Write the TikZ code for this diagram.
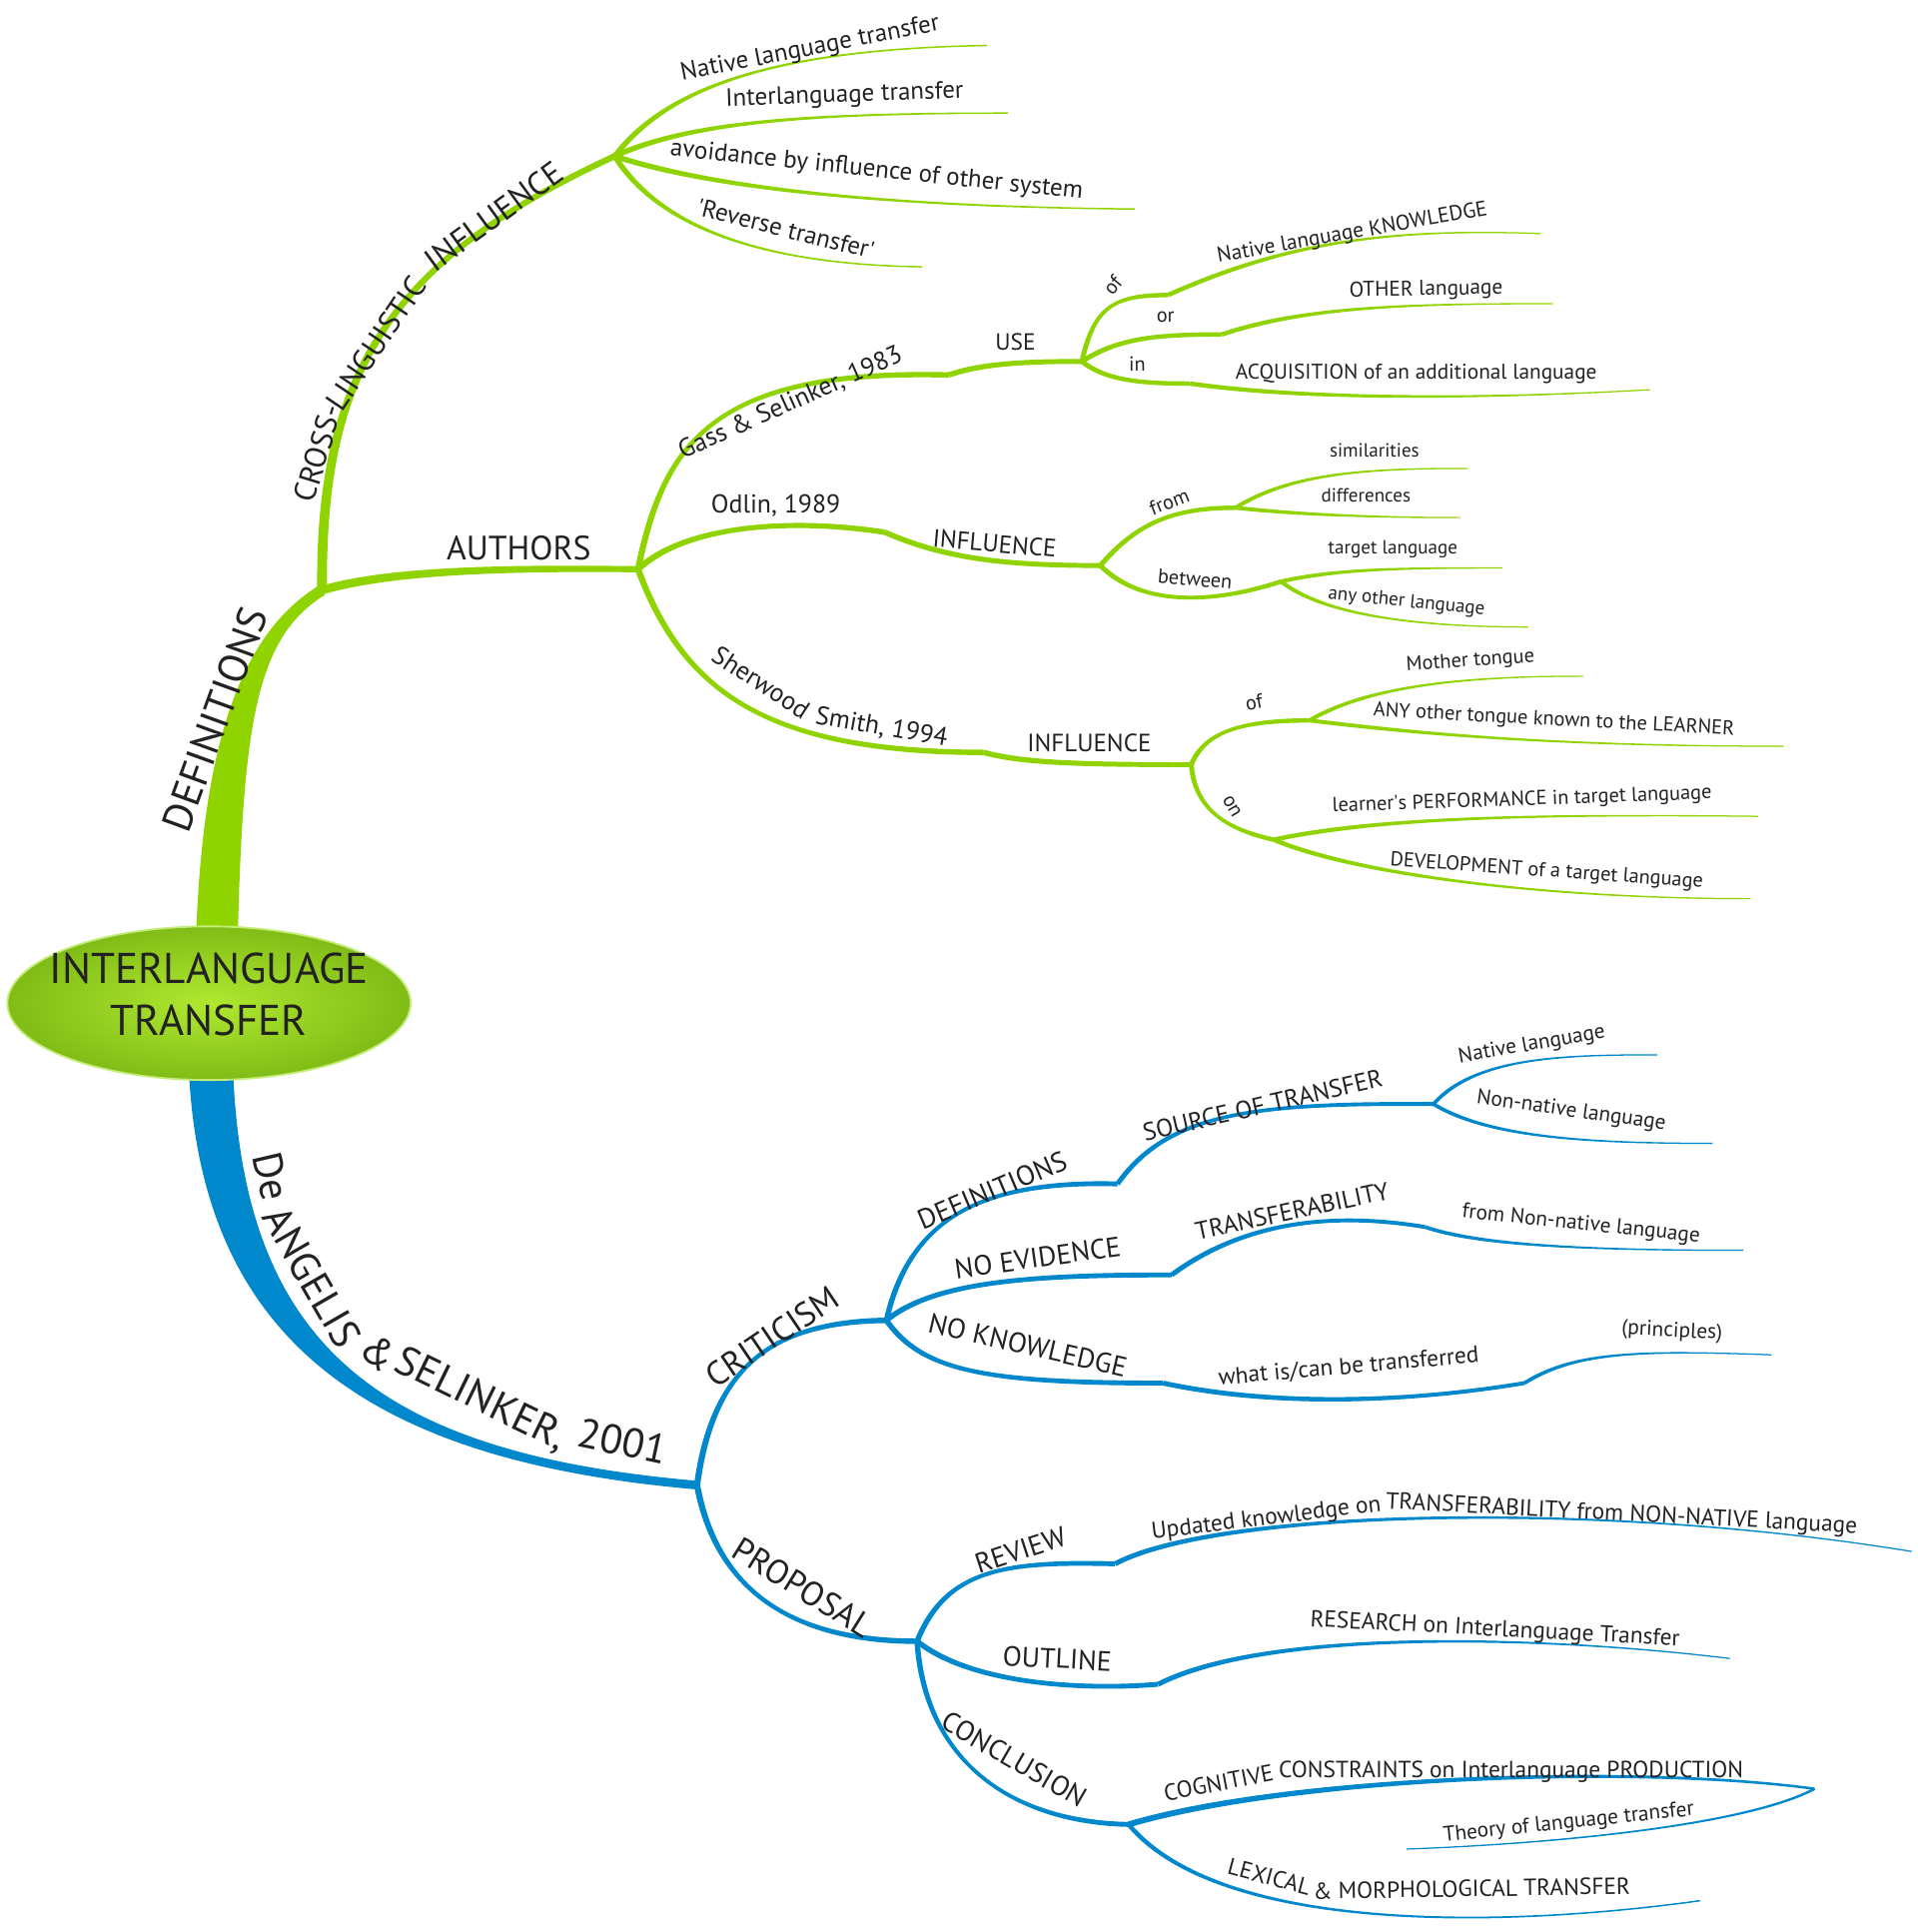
\documentclass[tikz,border=0pt]{standalone}
\usepackage{fontspec}
\setmainfont{PT Sans}
\usetikzlibrary{calc}
\usetikzlibrary{shapes.geometric}
\definecolor{grn}{RGB}{143,212,0}
\definecolor{blu}{RGB}{0,135,204}
\definecolor{ink}{RGB}{34,34,34}
\definecolor{pillHi}{RGB}{176,232,48}
\definecolor{pillLo}{RGB}{128,188,22}
\definecolor{pillRim}{RGB}{196,236,120}
% tapered branch: colour, start, control 1, control 2, end, half width at start, half width at end
\newcommand{\branch}[7]{\coordinate (t0) at (#2); \coordinate (t1) at (#3); \coordinate (t2) at (#4); \coordinate (t3) at (#5);
  \path ($(t0)!#6!90:(t1)$) coordinate (a0) ($(t0)!#6!-90:(t1)$) coordinate (b0) ($(t3)!#7!-90:(t2)$) coordinate (a3) ($(t3)!#7!90:(t2)$) coordinate (b3);
  \fill[#1] (a0) .. controls ($(t1)+(a0)-(t0)$) and ($(t2)+(a3)-(t3)$) .. (a3) -- (b3) .. controls ($(t2)+(b3)-(t3)$) and ($(t1)+(b0)-(t0)$) .. (b0) -- cycle;}
\tikzset{
  txt/.style={text=ink, inner sep=0pt},
  leafTxt/.style={txt, font=\fontsize{15.5}{18}\selectfont},
  leafMTxt/.style={txt, font=\fontsize{16.5}{19}\selectfont},
  leafLTxt/.style={txt, font=\fontsize{17.3}{20}\selectfont},
  twigSTxt/.style={txt, font=\fontsize{19}{22}\selectfont},
  twigTxt/.style={txt, font=\fontsize{20.3}{24}\selectfont},
  stemTxt/.style={txt, font=\fontsize{21}{25}\selectfont},
  stemLTxt/.style={txt, font=\fontsize{22.7}{27}\selectfont},
  boughTxt/.style={txt, font=\fontsize{27.5}{32}\selectfont},
  trunkTxt/.style={txt, font=\fontsize{33.5}{38}\selectfont},
  pill/.style={ellipse, minimum width=328pt, minimum height=125pt, inner sep=0pt, draw=pillRim, line width=1.5pt, inner color=pillHi, outer color=pillLo}
}
\begin{document}
\begin{tikzpicture}[x=1pt,y=-1pt]
        \useasboundingbox (0,0) rectangle (1560,1571.5);
        \fill[white] (0,0) rectangle (1560,1571.5);

        % hubs
        \coordinate (rootG) at (176,780);
        \coordinate (rootB) at (171,850);
        \coordinate (J1) at (262,480);
        \coordinate (H1) at (500,127);
        \coordinate (H2) at (519,463);
        \coordinate (G1) at (772,305);
        \coordinate (U) at (880,294);
        \coordinate (O1) at (950,240);
        \coordinate (O2) at (994,272);
        \coordinate (O3) at (968,312);
        \coordinate (D1) at (720,433);
        \coordinate (I1) at (895,460);
        \coordinate (F1) at (1005,413);
        \coordinate (B1) at (1042,473);
        \coordinate (S1) at (800,612);
        \coordinate (I2) at (969,622);
        \coordinate (OF2) at (1065,586);
        \coordinate (ON) at (1036,683);
        \coordinate (J2) at (567,1208);
        \coordinate (K) at (721,1074);
        \coordinate (P) at (746,1335);
        \coordinate (DF) at (909,963);
        \coordinate (SO) at (1166,898);
        \coordinate (NE) at (953,1037);
        \coordinate (TR) at (1159,998);
        \coordinate (NK) at (946,1125);
        \coordinate (WT) at (1240,1125);
        \coordinate (RV) at (907,1272);
        \coordinate (OL) at (942,1370);
        \coordinate (CO) at (918,1484);
        \coordinate (CC) at (1476,1455);
        % free ends
        \coordinate (nltE) at (803,37);
        \coordinate (iltE) at (820,92);
        \coordinate (avoE) at (923,170);
        \coordinate (revE) at (750,217);
        \coordinate (nkE) at (1253,190);
        \coordinate (othE) at (1263,247);
        \coordinate (acqE) at (1342,317);
        \coordinate (simE) at (1194,381);
        \coordinate (difE) at (1188,421);
        \coordinate (tlE) at (1222,462);
        \coordinate (aolE) at (1243,510);
        \coordinate (motE) at (1288,550);
        \coordinate (anyE) at (1451,607);
        \coordinate (perE) at (1430,664);
        \coordinate (devE) at (1424,731);
        \coordinate (natE) at (1348,858);
        \coordinate (nonE) at (1393,930);
        \coordinate (fnnE) at (1418,1017);
        \coordinate (priE) at (1441,1102);
        \coordinate (updE) at (1555,1262);
        \coordinate (resE) at (1407,1349);
        \coordinate (theE) at (1144,1504);
        \coordinate (lexE) at (1383,1546);

        % green side
        \branch{grn}{rootG}{180,590}{205,515}{J1}{17pt}{4.5pt}
        \branch{grn}{J1}{260,300}{320,210}{H1}{4pt}{2.5pt}
        \branch{grn}{H1}{540,75}{620,40}{nltE}{2.2pt}{0.6pt}
        \branch{grn}{H1}{560,100}{650,92}{iltE}{2.2pt}{0.6pt}
        \branch{grn}{H1}{570,150}{700,168}{avoE}{2.2pt}{0.6pt}
        \branch{grn}{H1}{530,175}{600,215}{revE}{2.2pt}{0.6pt}
        \branch{grn}{J1}{320,463}{420,462}{H2}{3.5pt}{2.5pt}
        % row1
        \branch{grn}{H2}{540,360}{580,300}{G1}{2.5pt}{2.2pt}
        \branch{grn}{G1}{800,295}{840,294}{U}{2.2pt}{2pt}
        \branch{grn}{U}{890,250}{905,240}{O1}{2pt}{1.8pt}
        \branch{grn}{U}{910,275}{940,272}{O2}{2pt}{1.8pt}
        \branch{grn}{U}{900,310}{930,312}{O3}{2pt}{1.8pt}
        \branch{grn}{O1}{1040,200}{1120,185}{nkE}{1.8pt}{0.5pt}
        \branch{grn}{O2}{1060,250}{1140,247}{othE}{1.8pt}{0.5pt}
        \branch{grn}{O3}{1060,325}{1200,325}{acqE}{1.8pt}{0.5pt}
        % row2
        \branch{grn}{H2}{560,425}{650,422}{D1}{2.5pt}{2.2pt}
        \branch{grn}{D1}{770,455}{820,460}{I1}{2.2pt}{2pt}
        \branch{grn}{I1}{925,425}{955,413}{F1}{2pt}{1.8pt}
        \branch{grn}{I1}{930,495}{990,490}{B1}{2pt}{1.8pt}
        \branch{grn}{F1}{1050,385}{1110,381}{simE}{1.6pt}{0.5pt}
        \branch{grn}{F1}{1050,418}{1110,421}{difE}{1.6pt}{0.5pt}
        \branch{grn}{B1}{1090,462}{1150,462}{tlE}{1.6pt}{0.5pt}
        \branch{grn}{B1}{1070,495}{1130,510}{aolE}{1.6pt}{0.5pt}
        % row3
        \branch{grn}{H2}{555,560}{620,612}{S1}{2.5pt}{2.2pt}
        \branch{grn}{S1}{830,620}{870,622}{I2}{2.2pt}{2pt}
        \branch{grn}{I2}{980,595}{1010,586}{OF2}{2pt}{1.8pt}
        \branch{grn}{I2}{972,660}{1000,675}{ON}{2pt}{1.8pt}
        \branch{grn}{OF2}{1110,560}{1180,550}{motE}{1.6pt}{0.5pt}
        \branch{grn}{OF2}{1140,595}{1250,607}{anyE}{1.6pt}{0.5pt}
        \branch{grn}{ON}{1120,665}{1250,662}{perE}{1.8pt}{0.5pt}
        \branch{grn}{ON}{1100,710}{1250,731}{devE}{1.8pt}{0.5pt}

        % blue side
        \branch{blu}{rootB}{174,1090}{300,1185}{J2}{18pt}{3.5pt}
        \branch{blu}{J2}{580,1110}{630,1075}{K}{2.5pt}{2.2pt}
        \branch{blu}{J2}{582,1290}{640,1335}{P}{2.5pt}{2.2pt}
        % criticism
        \branch{blu}{K}{740,990}{800,960}{DF}{2.2pt}{2pt}
        \branch{blu}{K}{760,1042}{840,1037}{NE}{2.2pt}{2pt}
        \branch{blu}{K}{750,1115}{800,1125}{NK}{2.2pt}{2pt}
        \branch{blu}{DF}{950,905}{1020,897}{SO}{2pt}{1.6pt}
        \branch{blu}{SO}{1200,860}{1270,858}{natE}{1.5pt}{0.5pt}
        \branch{blu}{SO}{1210,925}{1290,930}{nonE}{1.5pt}{0.5pt}
        \branch{blu}{NE}{1010,995}{1080,985}{TR}{2pt}{1.6pt}
        \branch{blu}{TR}{1200,1012}{1280,1017}{fnnE}{1.5pt}{0.5pt}
        \branch{blu}{NK}{1040,1145}{1150,1140}{WT}{2pt}{1.6pt}
        \branch{blu}{WT}{1280,1100}{1330,1098}{priE}{1.5pt}{0.5pt}
        % proposal
        \branch{blu}{P}{770,1275}{820,1270}{RV}{2.2pt}{2pt}
        \branch{blu}{P}{790,1370}{880,1375}{OL}{2.2pt}{2pt}
        \branch{blu}{P}{752,1430}{820,1482}{CO}{2.2pt}{2pt}
        \branch{blu}{RV}{990,1228}{1300,1220}{updE}{2pt}{0.5pt}
        \branch{blu}{OL}{1030,1325}{1250,1330}{resE}{2pt}{0.5pt}
        \branch{blu}{CO}{1050,1445}{1330,1435}{CC}{2.4pt}{1pt}
        \branch{blu}{CC}{1420,1485}{1260,1500}{theE}{1pt}{0.5pt}
        \branch{blu}{CO}{990,1570}{1210,1570}{lexE}{1.8pt}{0.6pt}

        % centre
        \node[pill] (root) at (170,816) {};
        \node[txt, align=center, font=\fontsize{35}{42}\selectfont] (rootTxt) at (170,809) {INTERLANGUAGE\\TRANSFER};

        % text green
        \node[trunkTxt, rotate=70] (defsL) at (175,585) {DEFINITIONS};
        \node[boughTxt, font=\fontsize{25}{30}\selectfont, rotate=73, anchor=base west] (cliA) at (255,410) {CROSS-};
        \node[boughTxt, font=\fontsize{25}{30}\selectfont, rotate=56, anchor=base west] (cliB) at (278,336) {LINGUISTIC};
        \node[boughTxt, font=\fontsize{26.5}{30}\selectfont, rotate=36, anchor=base west] (cliC) at (354,222) {INFLUENCE};
        \node[twigTxt, rotate=11] (nltL) at (659,40) {Native language transfer};
        \node[twigTxt, rotate=2] (iltL) at (687,78) {Interlanguage transfer};
        \node[twigTxt, rotate=-6] (avoL) at (713,139) {avoidance by influence of other system};
        \node[twigTxt, rotate=-14] (revL) at (639,186) {\textquotesingle Reverse transfer\textquotesingle};
        \node[boughTxt] (authL) at (422,446) {AUTHORS};
        \node[stemTxt, rotate=24] (gassL) at (643,328) {Gass \& Selinker, 1983};
        \node[stemTxt] (odlL) at (631,411) {Odlin, 1989};
        \node[stemTxt, rotate=-33] (sheA) at (619,555) {Sherwood};
        \node[stemTxt, rotate=-10] (sheB) at (717,592) {Smith, 1994};
        \node[twigSTxt] (useL) at (826,278) {USE};
        \node[leafMTxt, rotate=50] (ofaL) at (905,232) {of};
        \node[leafMTxt] (orL) at (948,258) {or};
        \node[leafMTxt] (inL) at (925,296) {in};
        \node[leafLTxt, rotate=10] (nkL) at (1100,190) {Native language KNOWLEDGE};
        \node[leafLTxt, rotate=1] (othL) at (1160,236) {OTHER language};
        \node[leafLTxt] (acqL) at (1152,304) {ACQUISITION of an additional language};
        \node[twigTxt, rotate=-5] (inf1L) at (809,442) {INFLUENCE};
        \node[leafMTxt, rotate=21] (fromL) at (951,408) {from};
        \node[leafMTxt, rotate=-5] (betL) at (972,471) {between};
        \node[leafTxt] (simL) at (1118,366) {similarities};
        \node[leafTxt] (difL) at (1111,403) {differences};
        \node[leafTxt] (tlL) at (1133,447) {target language};
        \node[leafTxt, rotate=-6] (aolL) at (1144,490) {any other language};
        \node[twigTxt] (inf2L) at (886,604) {INFLUENCE};
        \node[leafMTxt, rotate=10] (ofbL) at (1020,571) {of};
        \node[leafMTxt, rotate=-60] (onL) at (1002,656) {on};
        \node[leafMTxt, rotate=4] (motL) at (1196,538) {Mother tongue};
        \node[leafMTxt, rotate=-3] (anyL) at (1264,586) {ANY other tongue known to the LEARNER};
        \node[leafMTxt, rotate=2] (perL) at (1238,651) {learner\textquotesingle s PERFORMANCE in target language};
        \node[leafMTxt, rotate=-4] (devL) at (1258,709) {DEVELOPMENT of a target language};

        % text blue
        \node[trunkTxt, rotate=-77, anchor=base west] (deaA) at (205,940) {De};
        \node[trunkTxt, rotate=-60, anchor=base west] (deaB) at (212,990) {ANGELIS};
        \node[trunkTxt, rotate=-42, anchor=base west] (deaC) at (290,1100) {\&};
        \node[trunkTxt, rotate=-26, anchor=base west] (deaD) at (319,1114) {SELINKER,};
        \node[trunkTxt, rotate=-12, anchor=base west] (deaE) at (468,1176) {2001};
        \node[boughTxt, rotate=34] (criL) at (628,1087) {CRITICISM};
        \node[boughTxt, rotate=-32] (proL) at (653,1291) {PROPOSAL};
        \node[stemLTxt, rotate=23] (dfL) at (807,968) {DEFINITIONS};
        \node[stemLTxt, rotate=8] (neL) at (844,1023) {NO EVIDENCE};
        \node[stemLTxt, rotate=-13] (nkwL) at (836,1094) {NO KNOWLEDGE};
        \node[stemLTxt, rotate=18] (rvL) at (830,1261) {REVIEW};
        \node[stemLTxt, rotate=-3] (olL) at (860,1349) {OUTLINE};
        \node[stemLTxt, rotate=-30] (coL) at (825,1431) {CONCLUSION};
        \node[twigTxt, rotate=13] (soL) at (1027,899) {SOURCE OF TRANSFER};
        \node[twigTxt, rotate=12] (trL) at (1051,985) {TRANSFERABILITY};
        \node[twigSTxt, rotate=5] (wtL) at (1097,1112) {what is/can be transferred};
        \node[leafLTxt, rotate=10] (natL) at (1246,850) {Native language};
        \node[leafLTxt, rotate=-8] (nonL) at (1278,904) {Non-native language};
        \node[leafLTxt, rotate=-6] (fnnL) at (1286,996) {from Non-native language};
        \node[leafLTxt, rotate=-3] (priL) at (1360,1083) {(principles)};
        \node[twigSTxt, rotate=7, anchor=base east] (updA) at (1124,1229) {Updated knowledge on};
        \node[twigSTxt, rotate=-3, anchor=base west] (updB) at (1127,1227) {TRANSFERABILITY from NON-NATIVE language};
        \node[twigSTxt, rotate=-3] (resL) at (1216,1326) {RESEARCH on Interlanguage Transfer};
        \node[twigSTxt, rotate=11, anchor=base east] (cogA) at (1037,1448) {COGNITIVE};
        \node[twigSTxt, rotate=0, anchor=base west] (cogB) at (1040,1446) {CONSTRAINTS on Interlanguage PRODUCTION};
        \node[leafLTxt, rotate=6] (theL) at (1276,1483) {Theory of language transfer};
        \node[twigSTxt, rotate=-15, anchor=base east] (lexA) at (1064,1542) {LEXICAL};
        \node[twigSTxt, rotate=1, anchor=base west] (lexB) at (1068,1545) {\& MORPHOLOGICAL TRANSFER};
    \end{tikzpicture}
\end{document}
